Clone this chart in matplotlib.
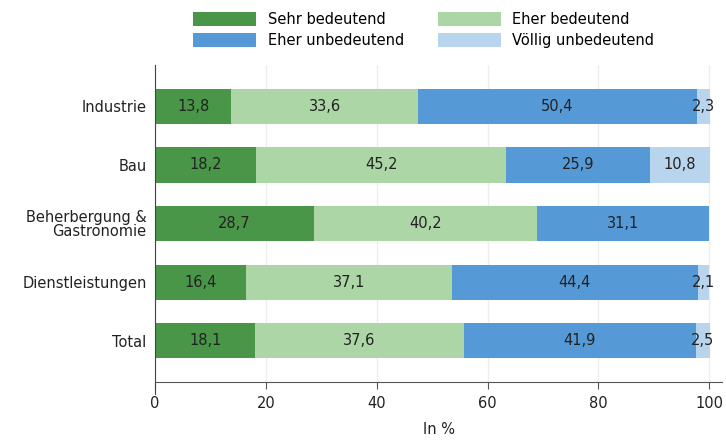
import matplotlib
matplotlib.use("Agg")
import matplotlib.pyplot as plt
import numpy as np

plt.rcParams["font.family"] = ["DejaVu Sans"]

kategorien = ["Industrie", "Bau", "Beherbergung &\nGastronomie", "Dienstleistungen", "Total"]
serien = ["Sehr bedeutend", "Eher bedeutend", "Eher unbedeutend", "Völlig unbedeutend"]
sehr_bedeutend = [13.8, 18.2, 28.7, 16.4, 18.1]
eher_bedeutend = [33.6, 45.2, 40.2, 37.1, 37.6]
eher_unbedeutend = [50.4, 25.9, 31.1, 44.4, 41.9]
voellig_unbedeutend = [2.3, 10.8, 0.0, 2.1, 2.5]
farben = ["#4a9648", "#acd6a6", "#559ad6", "#b9d5ee"]

werte = [sehr_bedeutend, eher_bedeutend, eher_unbedeutend, voellig_unbedeutend]

fig = plt.figure(figsize=(7.26, 4.41), dpi=100)
ax = fig.add_axes([0.2135, 0.134, 0.781, 0.718])

y = np.arange(len(kategorien))
links = np.zeros(len(kategorien))
balken = []
for name, vals, farbe in zip(serien, werte, farben):
    vals = np.array(vals)
    b = ax.barh(y, vals, left=links, height=0.6, color=farbe, label=name, zorder=2)
    balken.append(b)
    for yi, l, v in zip(y, links, vals):
        if v > 0:
            ax.text(l + v / 2, yi, f"{v:.1f}".replace(".", ","), ha="center", va="center",
                    fontsize=10.5, color="#222222", zorder=3)
    links += vals

ax.set_yticks(y)
ax.set_yticklabels(kategorien, fontsize=10.5, color="#222222", linespacing=0.95)
ax.set_ylim(len(kategorien) - 0.3, -0.7)
ax.set_xlim(0, 102.3)
ax.set_xticks([0, 20, 40, 60, 80, 100])
ax.tick_params(axis="x", labelsize=10.5, colors="#222222", length=5, color="#555555", pad=5)
ax.tick_params(axis="y", length=0, pad=6)
ax.set_xlabel("In %", fontsize=10.5, color="#222222", labelpad=8)
ax.grid(axis="x", color="#eeeeee", linewidth=1, zorder=0)

for s in ["top", "right"]:
    ax.spines[s].set_visible(False)
ax.spines["left"].set_color("#444444")
ax.spines["bottom"].set_color("#555555")
ax.spines["left"].set_bounds(len(kategorien) - 0.1, -0.7)

# zeilenweise Reihenfolge der Legende
reihenfolge = [0, 2, 1, 3]
fig.legend([balken[i] for i in reihenfolge], [serien[i] for i in reihenfolge],
           loc="upper left", bbox_to_anchor=(0.248, 1.003), ncol=2, frameon=False,
           fontsize=10.5, handlelength=4.3, handleheight=1.1, columnspacing=2.35,
           labelspacing=0.45, handletextpad=0.8)

plt.savefig("out.png", dpi=100)
plt.close("all")
